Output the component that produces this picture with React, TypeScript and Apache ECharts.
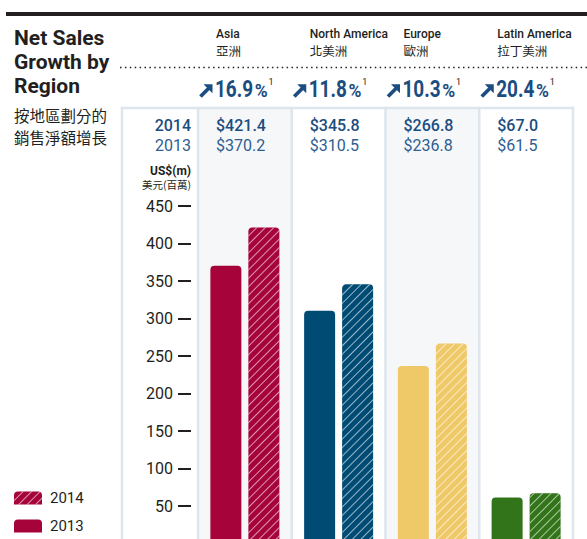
import React, { useEffect, useRef } from 'react';
import * as echarts from 'echarts';

const regions = ['Asia', 'North America', 'Europe', 'Latin America'];
const regionsZh = ['亞洲', '北美洲', '歐洲', '拉丁美洲'];
const sales2014 = [421.4, 345.8, 266.8, 67.0];
const sales2013 = [370.2, 310.5, 236.8, 61.5];
const growthPct = [16.9, 11.8, 10.3, 20.4];
const regionColors = ['#a6033a', '#004b74', '#efc967', '#327419'];
const yearLabels = ['2014', '2013'];
const yMax = 450;
const yStep = 50;

const W = 587;
const H = 539;
const CHART_H = 545;
const GRID_LEFT = 198;
const GRID_RIGHT = 14;
const COL_W = (W - GRID_LEFT - GRID_RIGHT) / regions.length;
const PANEL_TOP = 108;
const PANEL_LEFT = 122;
const INK = '#231f20';
const BLUE_DARK = '#1b4d80';
const BLUE_LIGHT = '#2f5e90';
const BORDER = '#dde6ed';
const SHADE = '#f5f7f9';
const CJK = "'Noto Sans CJK TC', 'Noto Sans CJK SC', sans-serif";
const SANS = "Roboto, 'Liberation Sans', sans-serif";
const PCT_SCALE = 0.79;

const hatch = {
  symbol: 'rect',
  symbolSize: 1,
  dashArrayX: [1, 0],
  dashArrayY: [1, 5],
  rotation: -Math.PI / 4,
  color: 'rgba(255,255,255,0.6)',
};

function measure(text: string, font: string): number {
  const c = document.createElement('canvas').getContext('2d');
  if (!c) return text.length * 10;
  c.font = font;
  return c.measureText(text).width;
}

export default function App() {
  const ref = useRef<HTMLDivElement>(null);

  useEffect(() => {
    if (!ref.current) return;
    const chart = echarts.init(ref.current, undefined, { renderer: 'svg' });

    const colX = (i: number) => GRID_LEFT + i * COL_W;
    const graphic: any[] = [];

    // column backgrounds
    regions.forEach((_, i) => {
      if (i % 2 === 0) {
        graphic.push({
          type: 'rect', z: -10,
          shape: { x: colX(i), y: PANEL_TOP, width: COL_W, height: CHART_H - PANEL_TOP },
          style: { fill: SHADE },
        });
      }
    });
    // borders
    const borderXs = [PANEL_LEFT, ...regions.map((_, i) => colX(i)), colX(regions.length)];
    borderXs.forEach((x) => {
      graphic.push({
        type: 'line', z: -5,
        shape: { x1: x, y1: PANEL_TOP - 1.25, x2: x, y2: CHART_H },
        style: { stroke: BORDER, lineWidth: 2.5 },
      });
    });
    graphic.push({
      type: 'line', z: -5,
      shape: { x1: PANEL_LEFT - 1.25, y1: PANEL_TOP, x2: colX(regions.length) + 1.25, y2: PANEL_TOP },
      style: { stroke: BORDER, lineWidth: 2.5 },
    });

    // top black bar
    graphic.push({ type: 'rect', shape: { x: 6, y: 12, width: W - 6, height: 4 }, style: { fill: INK } });
    // title
    graphic.push({
      type: 'text', x: 14, y: 26,
      style: {
        text: 'Net Sales\nGrowth by\nRegion', fill: INK,
        font: `bold 21px ${SANS}`, lineHeight: 24, textAlign: 'left', textVerticalAlign: 'top',
      },
    });
    graphic.push({
      type: 'text', x: 14, y: 104,
      style: {
        text: '按地區劃分的\n銷售淨額增長', fill: INK,
        font: `15.5px ${CJK}`, lineHeight: 22, textAlign: 'left', textVerticalAlign: 'top',
      },
    });
    // dotted line
    graphic.push({
      type: 'line',
      shape: { x1: 120, y1: 67.5, x2: W, y2: 67.5 },
      style: { stroke: INK, lineWidth: 1.6, lineDash: [1.5, 3.4] },
    });

    const numFont = `bold 24px ${SANS}`;
    const pctFont = `bold 17.5px ${SANS}`;

    regions.forEach((name, i) => {
      const x0 = colX(i);
      graphic.push({
        type: 'text', x: x0 + 18, y: 34,
        style: { text: name, fill: INK, font: `500 12px ${SANS}`, textAlign: 'left', textVerticalAlign: 'middle' },
      });
      graphic.push({
        type: 'text', x: x0 + 18, y: 50.5,
        style: { text: regionsZh[i], fill: INK, font: `12.5px ${CJK}`, textAlign: 'left', textVerticalAlign: 'middle' },
      });
      // arrow
      graphic.push({
        type: 'line',
        shape: { x1: x0 + 2.5, y1: 96.5, x2: x0 + 10.5, y2: 88.5 },
        style: { stroke: BLUE_DARK, lineWidth: 3.8 },
      });
      graphic.push({
        type: 'polygon',
        shape: { points: [[x0 + 5.5, 84.2], [x0 + 14.5, 84.2], [x0 + 14.5, 93.2]] },
        style: { fill: BLUE_DARK },
      });
      // growth percentage
      const numText = growthPct[i].toFixed(1);
      const numX = x0 + 17;
      const numW = measure(numText, numFont) * PCT_SCALE;
      const pctX = numX + numW + 1.5;
      const pctW = measure('%', pctFont);
      graphic.push({
        type: 'text', x: numX, y: 89, scaleX: PCT_SCALE,
        style: { text: numText, fill: BLUE_DARK, font: numFont, textAlign: 'left', textVerticalAlign: 'middle' },
      });
      graphic.push({
        type: 'text', x: pctX, y: 91.3,
        style: { text: '%', fill: BLUE_DARK, font: pctFont, textAlign: 'left', textVerticalAlign: 'middle' },
      });
      graphic.push({
        type: 'text', x: pctX + pctW + 1, y: 82,
        style: { text: '1', fill: INK, font: `9px ${SANS}`, textAlign: 'left', textVerticalAlign: 'middle' },
      });
      // values
      graphic.push({
        type: 'text', x: x0 + 18, y: 125,
        style: { text: `$${sales2014[i].toFixed(1)}`, fill: BLUE_DARK, font: `500 16px ${SANS}`, textAlign: 'left', textVerticalAlign: 'middle' },
      });
      graphic.push({
        type: 'text', x: x0 + 18, y: 145,
        style: { text: `$${sales2013[i].toFixed(1)}`, fill: BLUE_LIGHT, font: `16px ${SANS}`, textAlign: 'left', textVerticalAlign: 'middle' },
      });
    });

    graphic.push({
      type: 'text', x: 191, y: 125,
      style: { text: yearLabels[0], fill: BLUE_DARK, font: `500 16px ${SANS}`, textAlign: 'right', textVerticalAlign: 'middle' },
    });
    graphic.push({
      type: 'text', x: 191, y: 145,
      style: { text: yearLabels[1], fill: BLUE_LIGHT, font: `16px ${SANS}`, textAlign: 'right', textVerticalAlign: 'middle' },
    });
    graphic.push({
      type: 'text', x: 191, y: 170.5,
      style: { text: 'US$(m)', fill: INK, font: `bold 12px ${SANS}`, lineHeight: 12, textAlign: 'right', textVerticalAlign: 'middle' },
    });
    graphic.push({
      type: 'text', x: 191, y: 184,
      style: { text: '美元(百萬)', fill: INK, font: `10.5px ${CJK}`, lineHeight: 11, textAlign: 'right', textVerticalAlign: 'middle' },
    });

    const legendIcon = 'path://M0,4 Q0,0 4,0 L24,0 Q28,0 28,4 L28,13 L0,13 Z';

    chart.setOption({
      animation: false,
      backgroundColor: '#ffffff',
      grid: {
        left: GRID_LEFT, right: GRID_RIGHT, top: 206, bottom: CHART_H - 543.5,
        containLabel: false, outerBoundsMode: 'none',
      },
      legend: {
        orient: 'vertical', left: 14, top: 490.5, padding: 0,
        itemWidth: 28, itemHeight: 13, itemGap: 13,
        icon: legendIcon,
        data: [yearLabels[0], yearLabels[1]],
        textStyle: { fontSize: 15, color: INK, fontFamily: SANS, padding: [0, 0, 0, 3] },
        selectedMode: false,
      },
      xAxis: {
        type: 'category', data: regions,
        axisLine: { show: false }, axisTick: { show: false }, axisLabel: { show: false },
        splitLine: { show: false },
      },
      yAxis: {
        type: 'value', min: 0, max: yMax, interval: yStep, offset: 7,
        axisLine: { show: false },
        axisTick: { show: true, length: 13, lineStyle: { color: INK, width: 2 } },
        axisLabel: { margin: 18, fontSize: 16, color: INK, fontFamily: SANS, showMinLabel: false },
        splitLine: { show: false },
      },
      series: [
        {
          name: yearLabels[1], type: 'bar', barWidth: 31, barGap: '22.6%',
          itemStyle: { color: regionColors[0], borderRadius: [4, 4, 0, 0] },
          data: sales2013.map((v, i) => ({ value: v, itemStyle: { color: regionColors[i] } })),
        },
        {
          name: yearLabels[0], type: 'bar', barWidth: 31, barGap: '22.6%',
          itemStyle: { color: regionColors[0], borderRadius: [4, 4, 0, 0], decal: hatch },
          data: sales2014.map((v, i) => ({ value: v, itemStyle: { color: regionColors[i], decal: hatch } })),
        },
      ],
      graphic,
    });

    return () => chart.dispose();
  }, []);

  return (
    <div style={{ position: 'fixed', left: 0, top: 0, width: W, height: H, overflow: 'hidden' }}>
      <div ref={ref} style={{ width: W, height: CHART_H }} />
    </div>
  );
}
